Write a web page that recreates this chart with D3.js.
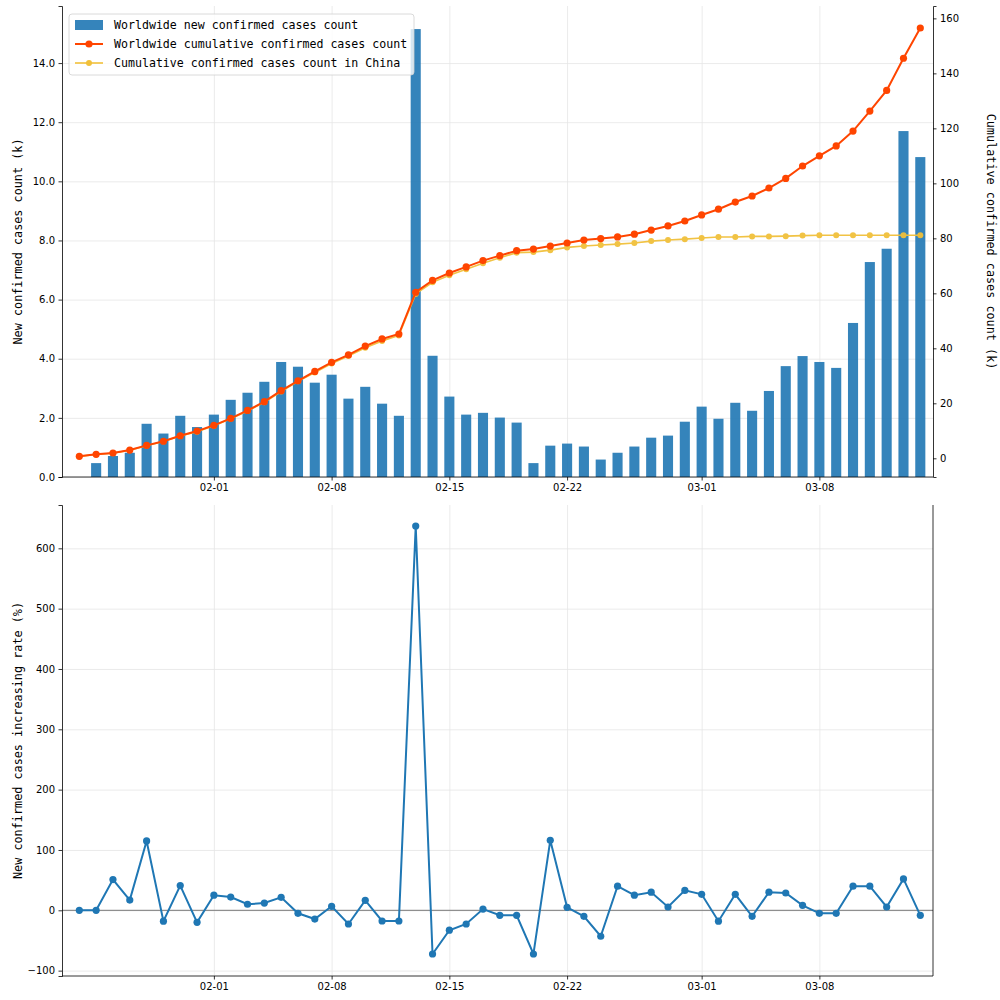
<!DOCTYPE html>
<html>
<head>
<meta charset="utf-8">
<script src="https://cdn.jsdelivr.net/npm/d3@7.9.0/dist/d3.min.js"></script>
<style>
  body { margin: 0; background: #fff; }
  svg { display: block; }
  .tick text { font-family: 'DejaVu Sans', sans-serif; font-size: 10px; fill: #000; }
  .lbl { font-family: 'DejaVu Sans Mono', monospace; font-size: 11.8px; fill: #000; }
  .leg { font-family: 'DejaVu Sans Mono', monospace; font-size: 11.6px; fill: #000; }
  .grid line { stroke: #e6e6e6; stroke-width: 0.8; }
  .grid path { display: none; }
</style>
</head>
<body>
<svg id="chart" width="1000" height="1000"></svg>
<script>
// one entry per day, 2020-01-24 .. 2020-03-14
const dates = d3.timeDay.range(new Date(2020, 0, 24), new Date(2020, 2, 15));

// worldwide new confirmed cases (k), no value on the first day
const newCases = [
  null, 0.47, 0.71, 0.82, 1.80, 1.47, 2.07, 1.69, 2.11, 2.61, 2.85, 3.22,
  3.89, 3.73, 3.19, 3.46, 2.65, 3.05, 2.48, 2.07, 15.15, 4.10, 2.72, 2.11,
  2.17, 2.01, 1.84, 0.47, 1.06, 1.13, 1.03, 0.59, 0.82, 1.03, 1.33, 1.40,
  1.87, 2.38, 1.97, 2.51, 2.24, 2.91, 3.75, 4.09, 3.89, 3.69, 5.21, 7.27,
  7.72, 11.70, 10.82
];

// worldwide cumulative confirmed cases (k)
const worldCum = [
  0.73, 1.45, 1.93, 3.0, 4.7, 6.2, 8.2, 9.9, 12.0, 14.5, 17.4, 20.6,
  24.6, 28.2, 31.6, 34.9, 37.6, 40.8, 43.4, 45.2, 60.4, 64.7, 67.4, 69.6,
  71.9, 73.7, 75.5, 76.1, 77.2, 78.3, 79.4, 79.9, 80.5, 81.5, 83.0, 84.5,
  86.3, 88.5, 90.6, 93.2, 95.4, 98.3, 101.8, 106.3, 110.0, 113.6, 119.0, 126.3,
  133.8, 145.5, 156.5
];

// cumulative confirmed cases in China (k)
const chinaCum = [
  0.70, 1.40, 1.85, 2.9, 4.6, 6.1, 8.1, 9.7, 11.8, 14.4, 17.2, 20.4,
  24.3, 28.0, 31.2, 34.5, 37.2, 40.2, 42.7, 44.7, 59.8, 64.0, 66.6, 68.8,
  70.9, 72.9, 74.8, 75.0, 75.7, 76.7, 77.2, 77.6, 77.9, 78.3, 79.0, 79.4,
  79.7, 80.1, 80.5, 80.5, 80.7, 80.7, 80.8, 81.0, 81.1, 81.1, 81.1, 81.1,
  81.1, 81.1, 81.1
];

// day over day increase rate of new cases (%)
const rate = [
  0, 0, 51, 17, 115, -18, 41, -20, 25, 22, 10, 12,
  21.5, -5, -14.5, 6.6, -22.7, 16.5, -17.7, -17.7, 637, -72.4, -33, -22.7,
  2, -8.3, -8.3, -72.4, 116, 5, -10, -43, 40, 25, 30, 5.5,
  33, 26.5, -18, 26.5, -10, 30, 28.7, 8.3, -5, -5, 40, 40,
  5.5, 52, -8.3
];

const leftTicks = [0, 2, 4, 6, 8, 10, 12, 14];
const rightTicks = [0, 20, 40, 60, 80, 100, 120, 140, 160];
const rateTicks = [-100, 0, 100, 200, 300, 400, 500, 600];
const dateTicks = [
  new Date(2020, 1, 1), new Date(2020, 1, 8), new Date(2020, 1, 15),
  new Date(2020, 1, 22), new Date(2020, 2, 1), new Date(2020, 2, 8)
];

const legendLabels = [
  'Worldwide new confirmed cases count',
  'Worldwide cumulative confirmed cases count',
  'Cumulative confirmed cases count in China'
];

const barColor = '#1f77b4';
const worldColor = '#ff4500';
const chinaColor = '#f1c03a';
const rateColor = '#1f77b4';

const svg = d3.select('#chart');
const day = 864e5;
const left = 62, right = 933;
const top1 = { y0: 6, y1: 477 };
const bot = { y0: 505, y1: 976 };

const x = d3.scaleTime()
  .domain([new Date(+dates[0] - 1.03 * day), new Date(+dates[dates.length - 1] + 0.755 * day)])
  .range([left, right]);
const barW = x(new Date(+dates[0] + 0.6 * day)) - x(dates[0]);

const yNew = d3.scaleLinear().domain([0, 15.93]).range([top1.y1, top1.y0]);
const yCum = d3.scaleLinear().domain([-6.8, 164.5]).range([top1.y1, top1.y0]);
const yRate = d3.scaleLinear().domain([-108.9, 671.8]).range([bot.y1, bot.y0]);

const fmtDate = d3.timeFormat('%m-%d');

function drawGrid(y, ticks, box) {
  svg.append('g').attr('class', 'grid')
    .attr('transform', `translate(${left},0)`)
    .call(d3.axisLeft(y).tickValues(ticks).tickSize(-(right - left)).tickFormat(''));
  svg.append('g').attr('class', 'grid')
    .attr('transform', `translate(0,${box.y1})`)
    .call(d3.axisBottom(x).tickValues(dateTicks).tickSize(-(box.y1 - box.y0)).tickFormat(''));
}

function styleAxis(g) {
  g.select('.domain').attr('stroke', '#000').attr('stroke-width', 0.8);
  g.selectAll('.tick line').attr('stroke', '#000').attr('stroke-width', 0.8);
}

// ---------- top panel ----------
drawGrid(yNew, leftTicks, top1);

svg.append('g')
  .selectAll('rect')
  .data(dates.map((d, i) => ({ d, v: newCases[i] })).filter(o => o.v != null))
  .join('rect')
  .attr('x', o => x(o.d) - barW / 2)
  .attr('width', barW)
  .attr('y', o => yNew(o.v))
  .attr('height', o => yNew(0) - yNew(o.v))
  .attr('fill', barColor)
  .attr('fill-opacity', 0.9);

function drawLine(vals, y, color, width, r, opacity) {
  let line = d3.line().x((v, i) => x(dates[i])).y(v => y(v));
  let g = svg.append('g').attr('opacity', opacity);
  g.append('path')
    .attr('d', line(vals))
    .attr('fill', 'none')
    .attr('stroke', color)
    .attr('stroke-width', width);
  g.selectAll('circle')
    .data(vals)
    .join('circle')
    .attr('cx', (v, i) => x(dates[i]))
    .attr('cy', v => y(v))
    .attr('r', r)
    .attr('fill', color);
}

drawLine(chinaCum, yCum, chinaColor, 1.6, 3, 0.95);
drawLine(worldCum, yCum, worldColor, 2, 3.6, 1);

svg.append('g')
  .attr('transform', `translate(${left},0)`)
  .call(d3.axisLeft(yNew).tickValues(leftTicks).tickFormat(d3.format('.1f')).tickSize(3.5).tickPadding(3.5))
  .call(styleAxis);

svg.append('g')
  .attr('transform', `translate(${right},0)`)
  .call(d3.axisRight(yCum).tickValues(rightTicks).tickSize(3.5).tickPadding(3.5))
  .call(styleAxis);

svg.append('g')
  .attr('transform', `translate(0,${top1.y1})`)
  .call(d3.axisBottom(x).tickValues(dateTicks).tickFormat(fmtDate).tickSize(3.5).tickPadding(3.5))
  .call(styleAxis)
  .call(g => g.select('.domain').attr('d', `M${left},0H${right}`));

svg.append('text').attr('class', 'lbl')
  .attr('transform', `translate(22,${(top1.y0 + top1.y1) / 2}) rotate(-90)`)
  .attr('text-anchor', 'middle')
  .text('New confirmed cases count (k)');

svg.append('text').attr('class', 'lbl')
  .attr('transform', `translate(987,${(top1.y0 + top1.y1) / 2}) rotate(90)`)
  .attr('text-anchor', 'middle')
  .text('Cumulative confirmed cases count (k)');

// legend
let legend = svg.append('g').attr('transform', 'translate(69,14)');
legend.append('rect')
  .attr('width', 345).attr('height', 61).attr('rx', 3)
  .attr('fill', '#fff').attr('fill-opacity', 0.8)
  .attr('stroke', '#d0d0d0').attr('stroke-width', 0.8);

legend.append('rect')
  .attr('x', 6).attr('y', 6).attr('width', 28).attr('height', 10)
  .attr('fill', barColor).attr('fill-opacity', 0.9);

[[worldColor, 2, 3.6], [chinaColor, 1.6, 3]].forEach(([c, w, r], i) => {
  let yy = 30 + i * 19;
  legend.append('line')
    .attr('x1', 6).attr('x2', 34).attr('y1', yy).attr('y2', yy)
    .attr('stroke', c).attr('stroke-width', w);
  legend.append('circle').attr('cx', 20).attr('cy', yy).attr('r', r).attr('fill', c);
});

legendLabels.forEach((t, i) => {
  legend.append('text').attr('class', 'leg')
    .attr('x', 45).attr('y', 11 + i * 19)
    .attr('dy', '0.35em')
    .text(t);
});

// ---------- bottom panel ----------
drawGrid(yRate, rateTicks, bot);

svg.append('line')
  .attr('x1', left).attr('x2', right)
  .attr('y1', yRate(0)).attr('y2', yRate(0))
  .attr('stroke', '#777').attr('stroke-width', 1);

drawLine(rate, yRate, rateColor, 2, 3.6, 1);

svg.append('g')
  .attr('transform', `translate(${left},0)`)
  .call(d3.axisLeft(yRate).tickValues(rateTicks).tickSize(3.5).tickPadding(3.5))
  .call(styleAxis);

svg.append('line')
  .attr('x1', right).attr('x2', right)
  .attr('y1', bot.y0).attr('y2', bot.y1)
  .attr('stroke', '#000').attr('stroke-width', 0.8);

svg.append('g')
  .attr('transform', `translate(0,${bot.y1})`)
  .call(d3.axisBottom(x).tickValues(dateTicks).tickFormat(fmtDate).tickSize(3.5).tickPadding(3.5))
  .call(styleAxis)
  .call(g => g.select('.domain').attr('d', `M${left},0H${right}`));

svg.append('text').attr('class', 'lbl')
  .attr('transform', `translate(22,${(bot.y0 + bot.y1) / 2}) rotate(-90)`)
  .attr('text-anchor', 'middle')
  .text('New confirmed cases increasing rate (%)');
</script>
</body>
</html>
